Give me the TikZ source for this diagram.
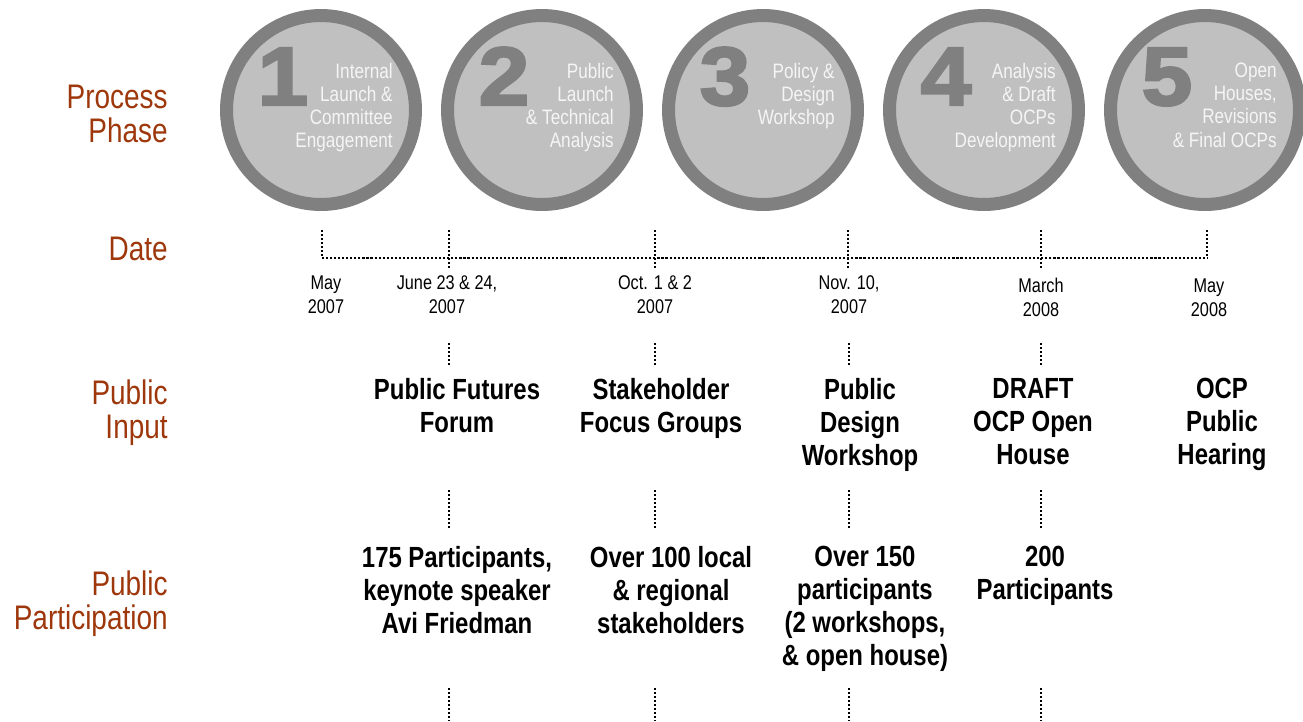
\documentclass[tikz,border=0pt]{standalone}
\usepackage{fontspec}
\setmainfont{Liberation Sans}[FakeStretch=0.82]
\newfontfamily\numfont{Liberation Sans}[FakeStretch=1.1, FakeBold=3]
\usetikzlibrary{positioning}

\definecolor{rust}{RGB}{158,56,12}
\definecolor{ringgray}{RGB}{128,128,128}
\definecolor{discgray}{RGB}{192,192,192}

\tikzset{
  rowlabel/.style={anchor=north east, align=right, inner sep=0, text=rust,
    font=\fontsize{19.4pt}{19.4pt}\selectfont},
  phase/.style={circle, draw=ringgray, fill=discgray, line width=0.26cm,
    minimum size=3.78cm, inner sep=0},
  phasenum/.style={anchor=base, inner sep=0, text=ringgray,
    font=\numfont\bfseries\fontsize{47pt}{47pt}\selectfont},
  phasetext/.style={anchor=north east, align=right, inner sep=0, text=white!96!black,
    font=\fontsize{11.9pt}{13.1pt}\selectfont},
  datetext/.style={anchor=north, align=center, inner sep=0,
    font=\fontsize{11.3pt}{13.7pt}\selectfont},
  event/.style={anchor=north, align=center, inner sep=0,
    font=\bfseries\fontsize{16.6pt}{18.8pt}\selectfont},
  dots/.style={line width=1.5pt, dash pattern=on 1.2pt off 1.1pt},
}

\begin{document}
\begin{tikzpicture}[x=0.02cm, y=-0.02cm]
  \useasboundingbox (0,0) rectangle (1303,721);

  % row labels
  \node[rowlabel] (lphase) at (168,85) {Process\\Phase};
  \node[rowlabel] (ldate) at (168,237) {Date};
  \node[rowlabel] (linput) at (168,379) {Public\\Input};
  \node[rowlabel] (lpart) at (168,570) {Public\\Participation};

  % phases
  \foreach \n/\cx/\txt in {1/321/{Internal\\Launch \&\\Committee\\Engagement},
      2/542/{Public\\Launch\\\& Technical\\Analysis},
      3/763/{Policy \&\\Design\\Workshop},
      4/984/{Analysis\\\& Draft\\OCPs\\Development},
      5/1205/{Open\\Houses,\\Revisions\\\& Final OCPs}} {
    \node[phase] (c\n) at (\cx,110) {};
    \node[phasenum] (n\n) at (\cx-38,105) {\n};
    \node[phasetext] (p\n) at (\cx+72,63) {\txt};
  }

  % timeline
  \foreach \k/\x in {1/322,2/449,3/655,4/848,5/1041,6/1207} {
    \coordinate (u\k) at (\x,230);
    \coordinate (t\k) at (\x,258);
  }
  \draw[dots] (t1) -- (t6);
  \draw[dots] (u1) -- (t1);
  \draw[dots] (u6) -- (t6);
  \foreach \k in {2,...,5}
    \draw[dots] (u\k) -- ([yshift=-10*0.02cm]t\k);

  % dates
  \node[datetext] (d1) at (326,275) {May\\2007};
  \node[datetext] (d2) at (447,275) {June 23 \& 24,\\2007};
  \node[datetext] (d3) at (655,275) {Oct. 1 \& 2\\2007};
  \node[datetext] (d4) at (849,275) {Nov. 10,\\2007};
  \node[datetext] (d5) at (1041,278) {March\\2008};
  \node[datetext] (d6) at (1209,278) {May\\2008};

  % public input
  \node[event] (i2) at (457,378) {Public Futures\\Forum};
  \node[event] (i3) at (661,378) {Stakeholder\\Focus Groups};
  \node[event] (i4) at (860,378) {Public\\Design\\Workshop};
  \node[event] (i5) at (1033,378) {DRAFT\\OCP Open\\House};
  \node[event] (i6) at (1222,378) {OCP\\Public\\Hearing};

  % public participation
  \node[event] (q2) at (457,546) {175 Participants,\\keynote speaker\\Avi Friedman};
  \node[event] (q3) at (671,546) {Over 100 local\\\& regional\\stakeholders};
  \node[event] (q4) at (865,546) {Over 150\\participants\\(2 workshops,\\\& open house)};
  \node[event] (q5) at (1045,546) {200\\Participants};

  % dotted links between rows
  \foreach \k/\x in {2/449,3/655,4/849,5/1041} {
    \coordinate (a\k) at (\x,343);
    \coordinate (b\k) at (\x,366);
    \coordinate (e\k) at (\x,490);
    \coordinate (f\k) at (\x,530);
    \coordinate (g\k) at (\x,688);
    \coordinate (h\k) at (\x,721);
    \draw[dots] (a\k) -- (b\k);
    \draw[dots] (e\k) -- (f\k);
    \draw[dots] (g\k) -- (h\k);
  }
\end{tikzpicture}
\end{document}
